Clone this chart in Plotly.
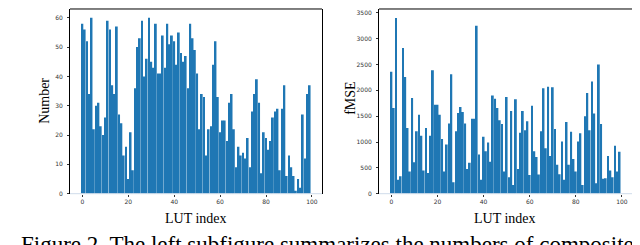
import plotly.graph_objects as go

# ---- data ----
lut_index = list(range(100))

number_counts = [
    58, 56, 52, 34, 60, 22, 30, 31, 23, 20,
    26, 59, 56, 37, 34, 57, 27, 24, 13, 16,
    5, 21, 8, 36, 50, 53, 59, 40, 46, 60,
    45, 43, 58, 41, 41, 54, 43, 58, 51, 54,
    52, 44, 55, 48, 45, 47, 36, 58, 53, 49,
    41, 22, 34, 33, 13, 22, 23, 44, 52, 33,
    21, 25, 25, 18, 31, 34, 22, 9, 16, 13,
    14, 12, 19, 9, 28, 34, 39, 31, 7, 21,
    19, 15, 18, 26, 28, 29, 8, 29, 37, 6,
    13, 9, 6, 1, 5, 2, 27, 12, 34, 37,
]

fmse_values = [
    2360, 1660, 3400, 270, 340, 2820, 2260, 1270, 430, 1850,
    610, 1210, 1530, 1120, 450, 1270, 400, 1120, 2390, 1720,
    1720, 1530, 1060, 430, 950, 1360, 2310, 220, 1210, 1560,
    1680, 1580, 1360, 480, 600, 1450, 1450, 3250, 760, 270,
    1100, 820, 990, 620, 1900, 1840, 1660, 1420, 1350, 430,
    1870, 320, 1600, 170, 1830, 480, 1180, 1600, 1230, 1400,
    360, 1700, 820, 710, 370, 1210, 2040, 880, 2070, 730,
    2060, 1250, 560, 375, 1010, 270, 1390, 560, 1200, 670,
    430, 1010, 1170, 170, 1500, 1950, 1230, 2170, 1550, 200,
    2500, 1350, 290, 300, 730, 450, 320, 930, 430, 810,
]

x_ticks = [0, 20, 40, 60, 80, 100]
left_y_ticks = [0, 10, 20, 30, 40, 50, 60]
right_y_ticks = [0, 500, 1000, 1500, 2000, 2500, 3000, 3500]

x_title = "LUT index"
left_y_title = "Number"
right_y_title = "fMSE"
caption = "Figure 2. The left subfigure summarizes the numbers of composite"

# ---- figure ----
W, H = 640, 245
BAR = "#1f77b4"
tick_font = dict(family="DejaVu Sans", size=6, color="#333333")
serif = "Liberation Serif"

def px_x(p):
    return p / W

def px_y(p):
    return (H - p) / H

fig = go.Figure()
fig.add_trace(go.Bar(x=lut_index, y=number_counts, marker_color=BAR,
                     marker_line_width=0, width=0.8, xaxis="x", yaxis="y"))
fig.add_trace(go.Bar(x=lut_index, y=fmse_values, marker_color=BAR,
                     marker_line_width=0, width=0.8, xaxis="x2", yaxis="y2"))

ydom = [px_y(188), px_y(1)]
xrange_ = [-5.39, 104.39]

common_x = dict(range=xrange_, tickvals=x_ticks, ticks="outside", ticklen=2,
                tickwidth=1, tickcolor="#333", tickfont=tick_font,
                showgrid=False, zeroline=False, showline=False)
common_y = dict(ticks="outside", ticklen=2, tickwidth=1, tickcolor="#333",
                tickfont=tick_font, showgrid=False, zeroline=False,
                showline=True, linecolor="black", linewidth=1, mirror=True,
                ticklabelstandoff=3)

fig.update_layout(
    width=W, height=H,
    margin=dict(l=0, r=0, t=0, b=0),
    paper_bgcolor="white", plot_bgcolor="white",
    showlegend=False,
    xaxis=dict(domain=[px_x(62), px_x(314)], anchor="y", **common_x),
    yaxis=dict(domain=ydom, anchor="x", range=[0, 63], tickvals=left_y_ticks, **common_y),
    xaxis2=dict(domain=[px_x(371), px_x(624)], anchor="y2", **common_x),
    yaxis2=dict(domain=ydom, anchor="x2", range=[0, 3575], tickvals=right_y_ticks, **common_y),
)

# top (black) and bottom (light) frame lines
for xr, yr in (("x domain", "y domain"), ("x2 domain", "y2 domain")):
    fig.add_shape(type="line", xref=xr, yref=yr, x0=0, x1=1, y0=1, y1=1,
                  line=dict(color="black", width=1))
    fig.add_shape(type="line", xref=xr, yref=yr, x0=0, x1=1, y0=0, y1=0,
                  line=dict(color="#cfdceb", width=1))

ann_font = dict(family=serif, size=14, color="black")
fig.add_annotation(text=left_y_title, x=px_x(37), y=px_y(94), xref="paper", yref="paper",
                   textangle=-90, showarrow=False, font=ann_font,
                   xanchor="center", yanchor="middle")
fig.add_annotation(text=right_y_title, x=px_x(343), y=px_y(92), xref="paper", yref="paper",
                   textangle=-90, showarrow=False, font=ann_font,
                   xanchor="center", yanchor="middle")
fig.add_annotation(text=x_title, x=px_x(188), y=px_y(213), xref="paper", yref="paper",
                   showarrow=False, font=ann_font, xanchor="center", yanchor="middle")
fig.add_annotation(text=x_title, x=px_x(497), y=px_y(213), xref="paper", yref="paper",
                   showarrow=False, font=ann_font, xanchor="center", yanchor="middle")
fig.add_annotation(text=caption, x=px_x(319), y=px_y(225), xref="paper", yref="paper",
                   showarrow=False, font=dict(family=serif, size=23, color="black"),
                   xanchor="center", yanchor="top")

fig.write_html("out.html")
